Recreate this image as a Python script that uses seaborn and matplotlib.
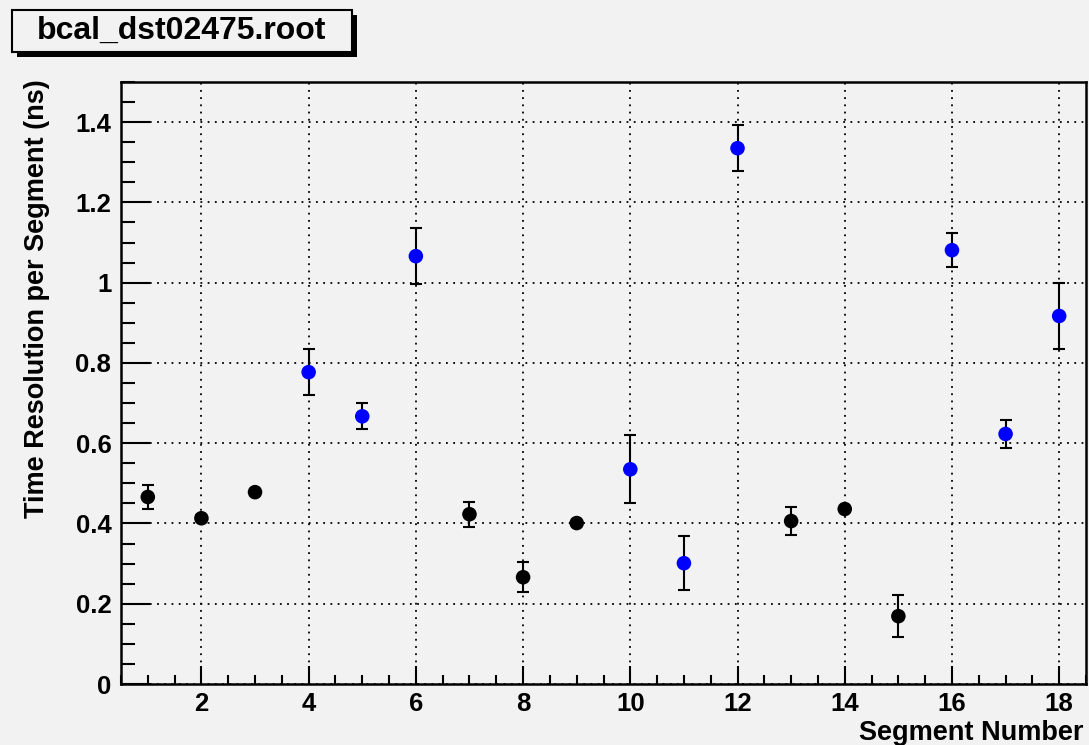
import matplotlib
matplotlib.use("Agg")
import matplotlib.pyplot as plt
from matplotlib.patches import Rectangle
from matplotlib.ticker import MultipleLocator, FormatStrFormatter
import seaborn as sns
import pandas as pd

#================================
# DATA
#================================
segment = [1, 2, 3, 4, 5, 6, 7, 8, 9, 10, 11, 12, 13, 14, 15, 16, 17, 18]
resolution = [0.466, 0.413, 0.478, 0.777, 0.667, 1.066, 0.423, 0.266, 0.401,
              0.535, 0.301, 1.335, 0.406, 0.436, 0.169, 1.081, 0.623, 0.917]
res_err = [0.030, 0.008, 0.008, 0.058, 0.032, 0.070, 0.031, 0.037, 0.006,
           0.085, 0.067, 0.058, 0.034, 0.006, 0.053, 0.042, 0.035, 0.082]
group = ["black", "black", "black", "blue", "blue", "blue", "black", "black", "black",
         "blue", "blue", "blue", "black", "black", "black", "blue", "blue", "blue"]

df = pd.DataFrame({"segment": segment, "res": resolution, "err": res_err, "group": group})

#================================
# STYLE
#================================
sns.set_style("ticks")
plt.rcParams["font.family"] = ["Liberation Sans", "DejaVu Sans"]
plt.rcParams["font.weight"] = "bold"
plt.rcParams["text.color"] = "black"
plt.rcParams["axes.labelcolor"] = "black"
plt.rcParams["xtick.color"] = "black"
plt.rcParams["ytick.color"] = "black"
bg = "#f2f2f2"

fig = plt.figure(figsize=(10.89, 7.45), dpi=100, facecolor=bg)
ax = fig.add_axes([121 / 1089, 1 - 684 / 745, (1086 - 121) / 1089, (684 - 82) / 745])
ax.set_facecolor(bg)

#================================
# POINTS + ERROR BARS
#================================
ax.errorbar(df["segment"], df["res"], yerr=df["err"], fmt="none",
            ecolor="black", elinewidth=1.5, capsize=4, capthick=1.5, zorder=2)
sns.scatterplot(data=df, x="segment", y="res", hue="group",
                palette={"black": "black", "blue": "blue"},
                s=110, edgecolor="none", legend=False, ax=ax, zorder=3)

#================================
# AXES
#================================
ax.set_xlim(0.5, 18.5)
ax.set_ylim(0, 1.5)
ax.xaxis.set_major_locator(MultipleLocator(2))
ax.xaxis.set_minor_locator(MultipleLocator(0.5))
ax.yaxis.set_major_locator(MultipleLocator(0.2))
ax.yaxis.set_minor_locator(MultipleLocator(0.05))
ax.yaxis.set_major_formatter(FormatStrFormatter("%g"))

ax.grid(True, which="major", color="black", linestyle=(0, (1, 3)), linewidth=1.3)
ax.tick_params(axis="both", which="both", direction="in", top=False, right=False,
               width=1.5, color="black", labelcolor="black", labelsize=18.5)
ax.tick_params(axis="y", which="major", length=21, pad=7)
ax.tick_params(axis="y", which="minor", length=10)
ax.tick_params(axis="x", which="major", length=13, pad=6)
ax.tick_params(axis="x", which="minor", length=6.5)
for lab in ax.get_xticklabels() + ax.get_yticklabels():
    lab.set_fontweight("bold")

for sp in ax.spines.values():
    sp.set_visible(True)
    sp.set_color("black")
    sp.set_linewidth(1.8)

ax.set_xlabel("Segment Number", fontsize=19.5, fontweight="bold", color="black", loc="right")
ax.xaxis.set_label_coords(0.997, -0.059)
ax.set_ylabel("Time Resolution per Segment (ns)", fontsize=19.5, fontweight="bold",
              color="black", loc="top")
ax.yaxis.set_label_coords(-0.074, 1.005)

#================================
# TITLE BOX
#================================
W, H = 1089, 745
fig.patches.append(Rectangle((17 / W, 1 - 57 / H), 340 / W, 42 / H, transform=fig.transFigure,
                             facecolor="black", edgecolor="none", zorder=1))
fig.patches.append(Rectangle((12 / W, 1 - 52 / H), 340 / W, 42 / H, transform=fig.transFigure,
                             facecolor=bg, edgecolor="black", linewidth=1.5, zorder=2))
fig.text(182 / W, 1 - 31 / H, "bcal_dst02475.root", fontsize=23, fontweight="bold",
         color="black", ha="center", va="center", zorder=3)

fig.savefig("out.png", dpi=100, facecolor=bg)
